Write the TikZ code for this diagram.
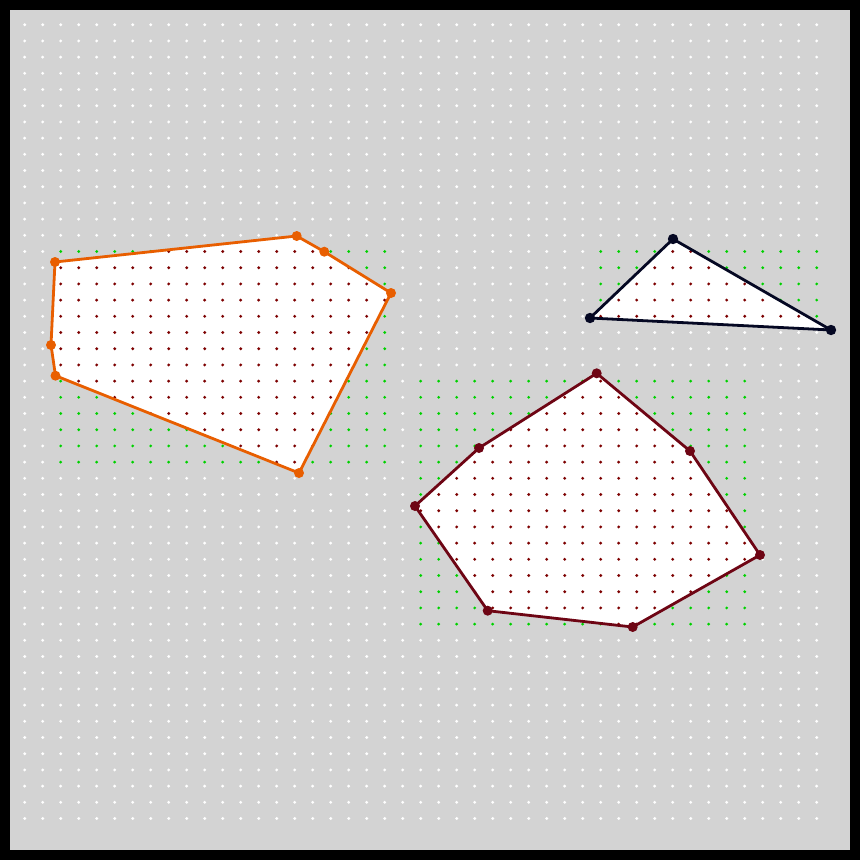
\documentclass[tikz,border=0pt]{standalone}
\definecolor{bg}{RGB}{211,211,211}
\definecolor{gdot}{RGB}{0,204,0}
\definecolor{rdot}{RGB}{125,0,0}
\definecolor{orng}{RGB}{232,94,0}
\definecolor{navyline}{RGB}{5,8,35}
\definecolor{maroonline}{RGB}{110,5,20}
\newcommand\mydots[5]{%
  \foreach \i in {#2,...,#3}{\foreach \j in {#4,...,#5}{%
    \fill[#1] ({24.7+18*\i},{24.7+16.2*\j}) circle (1.6);}}}
\tikzset{
  edge/.style={line width=2.8pt, line join=round},
}
\begin{document}
\begin{tikzpicture}[x=1pt,y=-1pt]
\useasboundingbox (0,0) rectangle (860,860);
\fill[black] (0,0) rectangle (860,860);
\fill[bg] (10,10) rectangle (850,850);
% background white dots
\mydots{white}{0}{44}{0}{49}
% vertices
\coordinate (o1) at (55,262);
\coordinate (o2) at (296.7,236);
\coordinate (o3) at (324.3,251.7);
\coordinate (o4) at (391,293);
\coordinate (o5) at (299,473);
\coordinate (o6) at (55.5,375.7);
\coordinate (o7) at (51,345);
\coordinate (t1) at (673,239);
\coordinate (t2) at (831,330);
\coordinate (t3) at (590,318);
\coordinate (m1) at (596.7,373.3);
\coordinate (m2) at (690,451);
\coordinate (m3) at (760,555);
\coordinate (m4) at (632.7,627);
\coordinate (m5) at (487.7,610.7);
\coordinate (m6) at (415,506);
\coordinate (m7) at (479,448);
% green dots in bounding boxes
\begin{scope}
\clip (51,236) rectangle (391,473);
\mydots{gdot}{2}{20}{14}{27}
\end{scope}
\begin{scope}
\clip (590,239) rectangle (831,330);
\mydots{gdot}{32}{44}{14}{18}
\end{scope}
\begin{scope}
\clip (415,373) rectangle (760,627);
\mydots{gdot}{22}{40}{22}{37}
\end{scope}
% polygon fills
\fill[white] (o1)--(o2)--(o3)--(o4)--(o5)--(o6)--(o7)--cycle;
\fill[white] (t1)--(t2)--(t3)--cycle;
\fill[white] (m1)--(m2)--(m3)--(m4)--(m5)--(m6)--(m7)--cycle;
% red dots inside
\begin{scope}
\clip (o1)--(o2)--(o3)--(o4)--(o5)--(o6)--(o7)--cycle;
\mydots{rdot}{2}{20}{14}{27}
\end{scope}
\begin{scope}
\clip (t1)--(t2)--(t3)--cycle;
\mydots{rdot}{32}{44}{14}{18}
\end{scope}
\begin{scope}
\clip (m1)--(m2)--(m3)--(m4)--(m5)--(m6)--(m7)--cycle;
\mydots{rdot}{22}{40}{22}{37}
\end{scope}
% outlines
\draw[edge, orng] (o1)--(o2)--(o3)--(o4)--(o5)--(o6)--(o7)--cycle;
\draw[edge, navyline] (t1)--(t2)--(t3)--cycle;
\draw[edge, maroonline] (m1)--(m2)--(m3)--(m4)--(m5)--(m6)--(m7)--cycle;
% vertex markers
\foreach \p in {o1,o2,o3,o4,o5,o6,o7} \fill[orng] (\p) circle (5);
\foreach \p in {t1,t2,t3} \fill[navyline] (\p) circle (5.2);
\foreach \p in {m1,m2,m3,m4,m5,m6,m7} \fill[maroonline] (\p) circle (5);
\end{tikzpicture}
\end{document}
